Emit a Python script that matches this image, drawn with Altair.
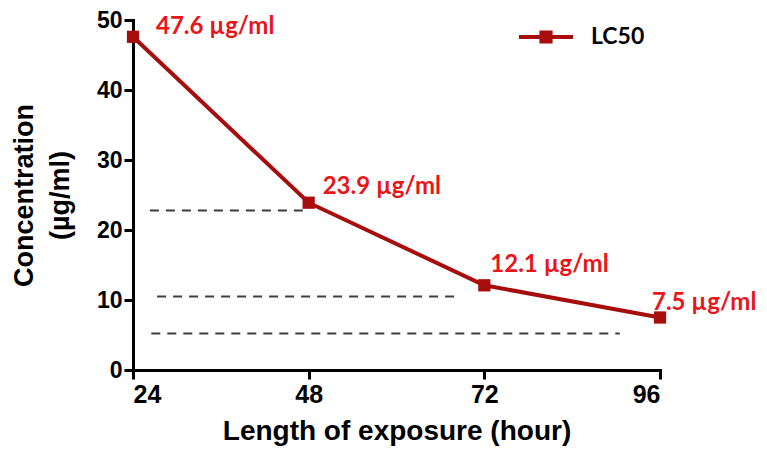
import altair as alt
import pandas as pd

# ---- data ----
hours = [24, 48, 72, 96]
lc50 = [47.6, 23.9, 12.1, 7.5]
point_labels = ["47.6 µg/ml", "23.9 µg/ml", "12.1 µg/ml", "7.5 µg/ml"]
series_name = ["LC50", "LC50", "LC50", "LC50"]

dash_y = [22.8, 10.5, 5.2]
dash_x_start = [26.3, 27.3, 26.5]
dash_x_end = [48.0, 68.8, 90.5]

x_ticks = [24, 48, 72, 96]
y_ticks = [0, 10, 20, 30, 40, 50]

# ---- styles ----
LINE_RED = "#a80d0d"
LABEL_RED = "#e8161b"
label_offsets = [(23, -3), (14, -9), (6, -13), (-8, -8)]
AX_FONT = "Liberation Sans"

df = pd.DataFrame({"hour": hours, "lc50": lc50, "label": point_labels, "series": series_name})
dash_df = pd.DataFrame({"y": dash_y, "x0": dash_x_start, "x1": dash_x_end})

xscale = alt.Scale(domain=[24, 96], nice=False, zero=False)
yscale = alt.Scale(domain=[0, 50], nice=False)

x_enc = alt.X("hour:Q", scale=xscale,
              axis=alt.Axis(values=x_ticks, format="d", title="Length of exposure (hour)",
                            titlePadding=10, labelPadding=3,
                            labelFont=AX_FONT, labelFontSize=25, labelFontWeight="bold",
                            titleFont=AX_FONT, titleFontSize=28, titleFontWeight="bold"))
y_enc = alt.Y("lc50:Q", scale=yscale,
              axis=alt.Axis(values=y_ticks, format="d", title=["Concentration", "(µg/ml)"],
                            titlePadding=22, titleLineHeight=36, labelPadding=2,
                            labelFont=AX_FONT, labelFontSize=23, labelFontWeight="bold",
                            titleFont=AX_FONT, titleFontSize=27, titleFontWeight="bold"))

color_enc = alt.Color(
    "series:N",
    scale=alt.Scale(domain=["LC50"], range=[LINE_RED]),
    legend=alt.Legend(
        orient="none", legendX=384, legendY=-12, title=None,
        symbolType="M-1,0L1,0M-0.17,-0.17L0.17,-0.17L0.17,0.17L-0.17,0.17Z",
        symbolSize=2916, symbolStrokeWidth=4, symbolFillColor=LINE_RED,
        symbolStrokeColor=LINE_RED,
        labelFont="Lato", labelFontSize=23, labelFontWeight="bold", labelColor="black",
        labelOffset=16, padding=0,
    ),
)

rules = alt.Chart(dash_df).mark_rule(strokeDash=[9, 7], strokeWidth=2, color="#3c3c3c").encode(
    x=alt.X("x0:Q", scale=xscale), x2="x1:Q", y=alt.Y("y:Q", scale=yscale)
)

line = alt.Chart(df).mark_line(strokeWidth=4).encode(x=x_enc, y=y_enc, color=color_enc)
points = alt.Chart(df).mark_point(shape="square", filled=True, size=150, opacity=1, color=LINE_RED).encode(
    x=alt.X("hour:Q", scale=xscale), y=alt.Y("lc50:Q", scale=yscale)
)

texts = []
for lbl, (dx, dy) in zip(point_labels, label_offsets):
    texts.append(
        alt.Chart(df).transform_filter(alt.datum.label == lbl).mark_text(
            align="left", baseline="alphabetic", dx=dx, dy=dy,
            font="Lato", fontSize=24, fontWeight="bold", color=LABEL_RED,
        ).encode(x=alt.X("hour:Q", scale=xscale), y=alt.Y("lc50:Q", scale=yscale), text="label:N")
    )

chart = alt.layer(rules, line, points, *texts).properties(
    width=527, height=350,
    autosize=alt.AutoSizeParams(type="none"),
    padding={"left": 125, "top": 12, "right": 99, "bottom": 79},
).configure_view(stroke=None).configure_axis(
    grid=False,
    domainColor="black", domainWidth=3, domainCap="square",
    tickColor="black", tickWidth=3, tickSize=9,
    labelColor="black", titleColor="black",
)

chart.save("out.html", embed_options={"renderer": "svg", "actions": False})
